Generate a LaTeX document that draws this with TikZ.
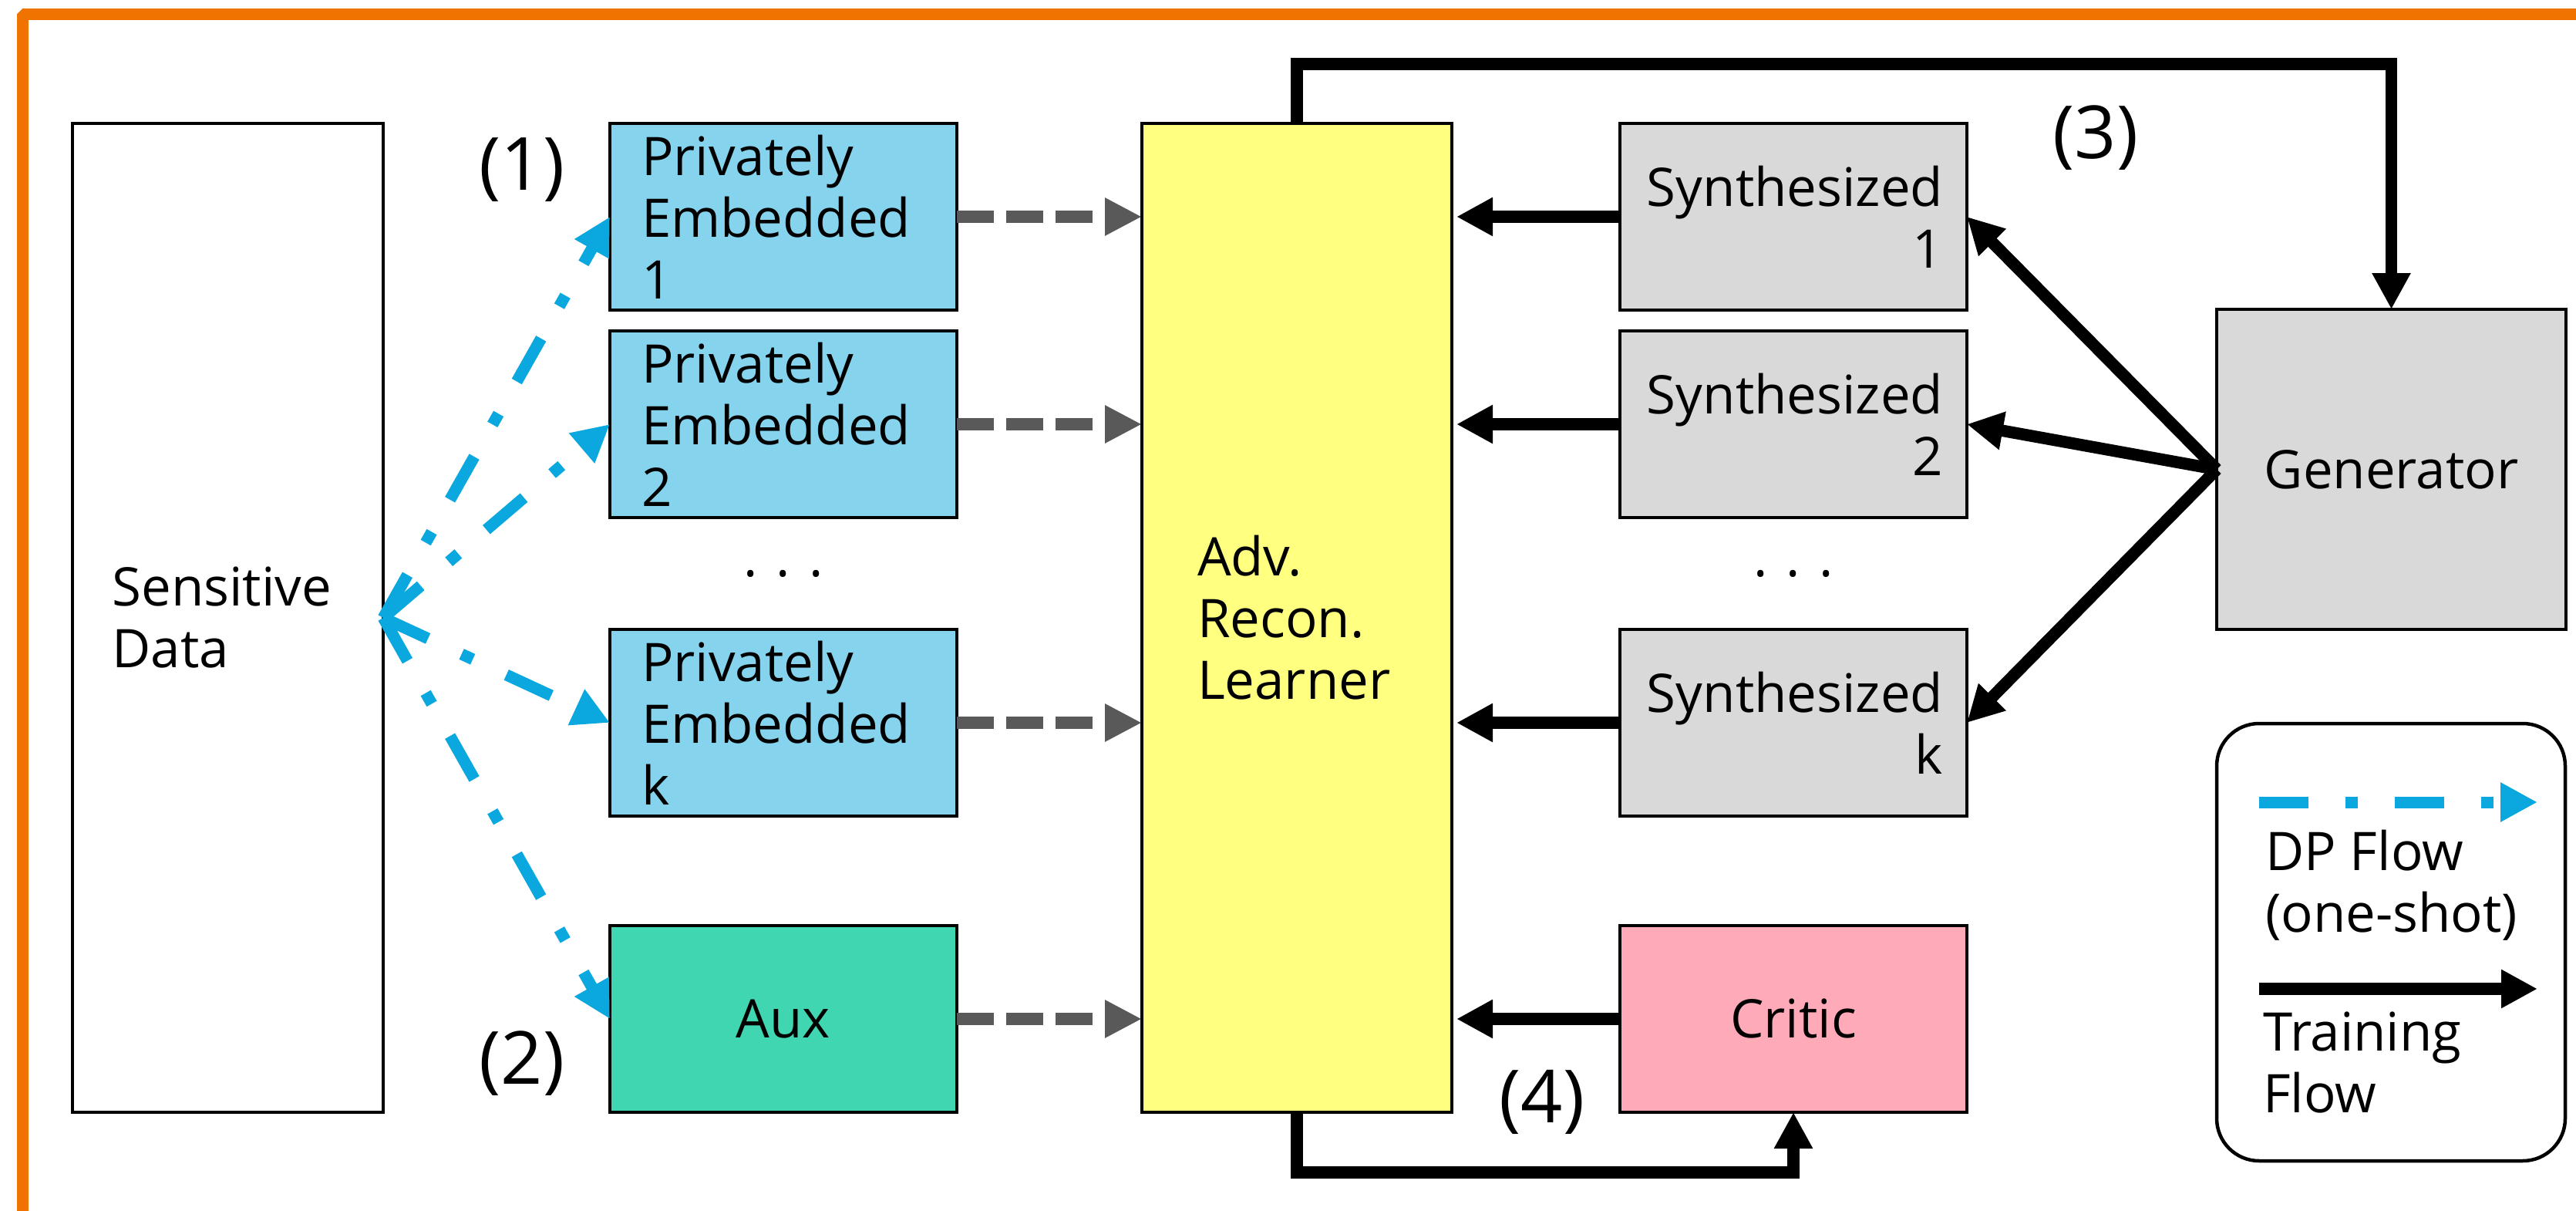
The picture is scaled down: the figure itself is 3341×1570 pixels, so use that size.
\documentclass[tikz,border=0pt]{standalone}
\usepackage{fontspec}
\setmainfont{Open Sans}
\usetikzlibrary{arrows.meta}
\definecolor{framec}{RGB}{240,115,0}
\definecolor{peblue}{RGB}{133,211,237}
\definecolor{auxgreen}{RGB}{64,214,177}
\definecolor{advyellow}{RGB}{255,255,128}
\definecolor{syngray}{RGB}{217,217,217}
\definecolor{criticpink}{RGB}{255,170,184}
\definecolor{dpblue}{RGB}{11,168,224}
\definecolor{feedgray}{RGB}{89,89,89}
\begin{document}
\begin{tikzpicture}[x=1pt,y=-1pt,
  txt/.style={font=\fontsize{69}{80}\selectfont},
  numlabel/.style={font=\fontsize{95}{100}\selectfont, inner sep=0pt},
  block/.style={draw=black, line width=4.5pt, inner sep=0pt, outer sep=0pt, txt},
  pebox/.style={block, fill=peblue, minimum width=450pt, minimum height=242pt, text width=368pt, align=left},
  synbox/.style={block, fill=syngray, minimum width=450pt, minimum height=242pt, text width=388pt, align=right},
  dp/.style={draw=dpblue, line width=15pt, dash pattern=on 64pt off 48pt on 16pt off 48pt, -{Triangle[length=48pt,width=48pt]}},
  feed/.style={draw=feedgray, line width=16pt, dash pattern=on 48pt off 16pt, -{Triangle[length=48pt,width=46pt]}},
  train/.style={draw=black, line width=15.5pt, -{Triangle[length=47pt,width=47pt]}}
]
\useasboundingbox (0,0) rectangle (3341,1570);
\fill[white] (0,0) rectangle (3341,1570);

% outer frame
\begin{scope}
  \clip (0,0) rectangle (3341,1570);
  \draw[framec, line width=15pt, line join=bevel] (29.5,18.5) rectangle (3360,1577.5);
\end{scope}

% data source
\node[block, fill=white, minimum width=403pt, minimum height=1282pt, text width=300pt, align=left] (sens) at (295.5,801) {Sensitive\\Data};

% privately embedded copies and auxiliary data
\node[pebox] (pe1) at (1016,281) {Privately\\Embedded\\1};
\node[pebox] (pe2) at (1016,550) {Privately\\Embedded\\2};
\node[txt, inner sep=0pt] (pedots) at (1016,744) {. . .};
\node[pebox] (pek) at (1016,937) {Privately\\Embedded\\k};
\node[block, fill=auxgreen, minimum width=450pt, minimum height=242pt] (aux) at (1016,1321) {Aux};

% learner
\node[block, fill=advyellow, minimum width=402pt, minimum height=1282pt, text width=258pt, align=left] (adv) at (1682,801) {Adv.\\Recon.\\Learner};

% synthesized samples and critic
\node[synbox] (syn1) at (2326,281) {Synthesized\\1};
\node[synbox] (syn2) at (2326,550) {Synthesized\\2};
\node[txt, inner sep=0pt] (syndots) at (2326,744) {. . .};
\node[synbox] (synk) at (2326,937) {Synthesized\\k};
\node[block, fill=criticpink, minimum width=450pt, minimum height=242pt] (critic) at (2326,1321) {Critic};

% generator
\node[block, fill=syngray, minimum width=453pt, minimum height=415pt] (gen) at (3101.5,608.5) {Generator};

% step labels
\node[numlabel] (l1) at (677,220) {(1)};
\node[numlabel] (l2) at (677,1379) {(2)};
\node[numlabel] (l3) at (2718,179) {(3)};
\node[numlabel] (l4) at (2000,1429) {(4)};

% DP flows
\draw[dp] (sens.east) -- (pe1.west);
\draw[dp] (sens.east) -- (pe2.west);
\draw[dp] (sens.east) -- (pek.west);
\draw[dp] (sens.east) -- (aux.west);

% inputs to the learner
\draw[feed] (pe1.east) -- (adv.west |- pe1.east);
\draw[feed] (pe2.east) -- (adv.west |- pe2.east);
\draw[feed] (pek.east) -- (adv.west |- pek.east);
\draw[feed] (aux.east) -- (adv.west |- aux.east);

\draw[train, shorten >=6pt] (syn1.west) -- (adv.east |- syn1.west);
\draw[train, shorten >=6pt] (syn2.west) -- (adv.east |- syn2.west);
\draw[train, shorten >=6pt] (synk.west) -- (adv.east |- synk.west);
\draw[train, shorten >=6pt] (critic.west) -- (adv.east |- critic.west);

% generator outputs
\draw[train] (gen.west) -- (syn1.east);
\draw[train] (gen.west) -- (syn2.east);
\draw[train] (gen.west) -- (synk.east);

% training loops
\coordinate (topline) at (0,83);
\coordinate (botline) at (0,1520);
\draw[train] (adv.north) -- (adv.north |- topline) -| (gen.north);
\draw[train] (adv.south) -- (adv.south |- botline) -| (critic.south);

% legend
\node[draw=black, line width=4.5pt, rounded corners=55pt, minimum width=452pt, minimum height=567pt, inner sep=0pt] (legend) at (3101,1221.5) {};
\coordinate (dpA) at (2930,1040);
\coordinate (dpB) at (3291,1040);
\coordinate (trA) at (2930,1282);
\coordinate (trB) at (3291,1282);
\draw[dp] (dpA) -- (dpB);
\draw[train] (trA) -- (trB);
\node[txt, inner sep=0pt, anchor=west, align=left] (dptext) at (2938,1148) {DP Flow\\(one-shot)};
\node[txt, inner sep=0pt, anchor=west, align=left] (trtext) at (2935,1378) {Training\\Flow};
\end{tikzpicture}
\end{document}
